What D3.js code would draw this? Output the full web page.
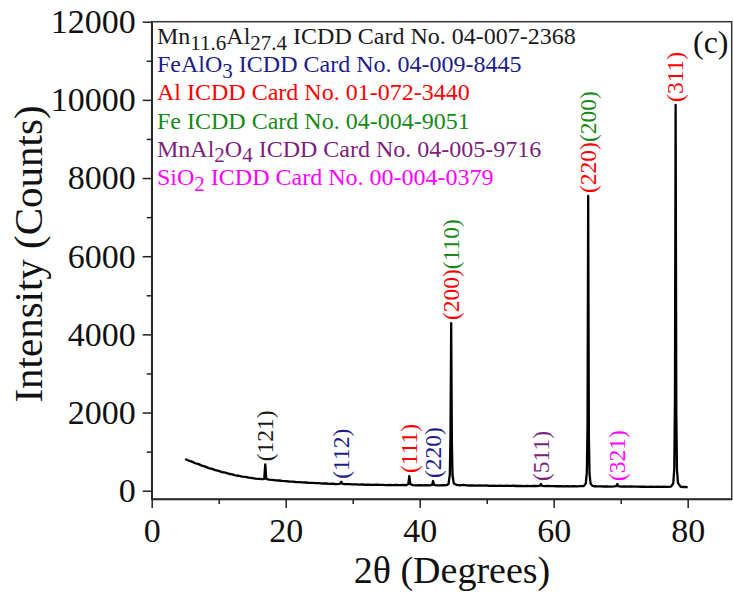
<!DOCTYPE html>
<html>
<head>
<meta charset="utf-8">
<script src="https://cdn.jsdelivr.net/npm/d3@7"></script>
<style>
  html, body { margin: 0; padding: 0; background: #fff; }
  svg { display: block; }
  text { font-family: "Liberation Serif", "Times New Roman", serif; }
</style>
</head>
<body>
<svg id="chart" width="733" height="594"></svg>
<script>
// XRD scan: [2θ (deg), intensity (counts)]
const scan = [
  [5.0,810],[5.5,772],[6.0,745],[6.5,703],[7.0,680],[7.5,641],[8.0,615],[8.5,578],[9.0,560],[9.5,528],
  [10.0,507],[10.5,476],[11.0,462],[11.5,434],[12.0,420],[12.5,395],[13.0,383],[13.5,360],[14.0,352],[14.5,333],
  [15.0,325],[15.5,310],[16.0,304],[16.5,296],[16.8,305],[16.95,675],[17.1,300],[17.5,283],[18.0,279],[18.5,266],
  [19.0,261],[19.5,250],[20.0,247],[20.5,236],[21.0,234],[21.5,223],[22.0,221],[22.5,211],[23.0,210],[23.5,201],
  [24.0,199],[24.5,193],[25.0,192],[25.5,184],[26.0,185],[26.5,177],[27.0,178],[27.5,171],[28.0,174],[28.18,188],
  [28.3,230],[28.42,182],[28.8,168],[29.5,169],[30.0,161],[30.5,163],[31.0,156],[31.5,159],[32.0,152],[32.5,156],
  [33.0,150],[33.5,153],[34.0,147],[34.5,151],[35.0,145],[35.5,149],[36.0,143],[36.5,147],[37.0,141],[37.5,146],
  [38.0,142],[38.3,170],[38.45,376],[38.6,168],[39.0,143],[39.5,138],[40.0,144],[40.5,137],[41.0,141],[41.5,136],
  [41.85,150],[42.0,248],[42.15,148],[42.5,139],[43.0,135],[43.5,140],[44.0,141],[44.3,170],[44.5,420],[44.6,1450],
  [44.7,4290],[44.8,1250],[44.9,390],[45.1,185],[45.5,150],[46.0,139],[46.5,148],[47.0,136],[47.5,134],[48.0,138],
  [48.5,131],[49.0,135],[49.5,128],[50.0,133],[50.5,126],[51.0,131],[51.5,125],[52.0,129],[52.5,124],[53.0,128],
  [53.5,122],[54.0,127],[54.5,121],[55.0,125],[55.5,120],[56.0,124],[56.5,118],[57.0,122],[57.5,120],[57.95,128],
  [58.1,171],[58.25,126],[58.7,117],[59.0,121],[59.5,115],[60.0,120],[60.5,114],[61.0,118],[61.5,113],[62.0,117],
  [62.5,112],[63.0,116],[63.5,111],[64.0,115],[64.5,116],[64.8,190],[64.95,480],[65.05,1650],[65.15,7540],[65.25,1400],
  [65.35,430],[65.5,185],[65.8,124],[66.0,114],[66.5,110],[67.0,113],[67.5,108],[68.0,112],[68.5,107],[69.0,111],
  [69.35,118],[69.5,171],[69.65,116],[70.0,106],[70.5,110],[71.0,104],[71.5,108],[72.0,103],[72.5,107],[73.0,101],
  [73.5,105],[74.0,100],[74.5,104],[75.0,99],[75.5,103],[76.0,98],[76.5,102],[77.0,97],[77.5,104],[77.85,190],
  [78.0,560],[78.1,2300],[78.2,9870],[78.3,2000],[78.4,540],[78.55,200],[78.9,110],[79.0,98],[79.5,95],[80.0,92]
];

// Reference phases (legend)
const phaseNames  = ["Mn11.6Al27.4", "FeAlO3", "Al", "Fe", "MnAl2O4", "SiO2"];
const cardNumbers = ["04-007-2368", "04-009-8445", "01-072-3440", "04-004-9051", "04-005-9716", "00-004-0379"];
const phaseColors = ["#1a1a1a", "#1c1c8e", "#ff0000", "#178a17", "#7d1f7d", "#ff00ff"];

// Indexed reflections
const peakAngles = [16.95, 28.3, 38.45, 42.0, 44.7, 58.1, 65.15, 69.5, 78.2];
const peakCounts = [675, 230, 376, 248, 4290, 171, 7540, 171, 9870];
const peakHkl    = [["(121)"], ["(112)"], ["(111)"], ["(220)"], ["(200)", "(110)"], ["(511)"], ["(220)", "(200)"], ["(321)"], ["(311)"]];
const peakPhase  = [[0], [1], [2], [1], [2, 3], [4], [2, 3], [5], [2]];

// Axis ticks
const xMajorTicks = [0, 20, 40, 60, 80];
const xMinorTicks = [10, 30, 50, 70];
const yMajorTicks = [0, 2000, 4000, 6000, 8000, 10000, 12000];
const yMinorTicks = [1000, 3000, 5000, 7000, 9000, 11000];

const svg = d3.select("#chart");
const plot = { left: 151.7, right: 731.7, top: 21.7, bottom: 499 };

const x = d3.scaleLinear().domain([0, 86.57]).range([plot.left, plot.right]);
const y = d3.scaleLinear().domain([-212, 12000]).range([plot.bottom, plot.top]);

// Plot frame
svg.append("rect")
  .attr("x", plot.left).attr("y", plot.top)
  .attr("width", plot.right - plot.left).attr("height", plot.bottom - plot.top)
  .attr("fill", "none").attr("stroke", "#333").attr("stroke-width", 1.5);

// X axis
svg.append("g").attr("transform", `translate(0,${plot.bottom})`)
  .call(d3.axisBottom(x).tickValues(xMajorTicks).tickFormat(d3.format("d"))
    .tickSize(9).tickPadding(10).tickSizeOuter(0));
svg.append("g").attr("transform", `translate(0,${plot.bottom})`)
  .call(d3.axisBottom(x).tickValues(xMinorTicks).tickFormat("").tickSize(5).tickSizeOuter(0))
  .call(g => g.select(".domain").remove());

// Y axis
svg.append("g").attr("transform", `translate(${plot.left},0)`)
  .call(d3.axisLeft(y).tickValues(yMajorTicks).tickFormat(d3.format("d"))
    .tickSize(9).tickPadding(7).tickSizeOuter(0));
svg.append("g").attr("transform", `translate(${plot.left},0)`)
  .call(d3.axisLeft(y).tickValues(yMinorTicks).tickFormat("").tickSize(5).tickSizeOuter(0))
  .call(g => g.select(".domain").remove());

svg.selectAll(".domain").attr("stroke", "#222").attr("stroke-width", 1.5);
svg.selectAll(".tick line").attr("stroke", "#222").attr("stroke-width", 1.5);
svg.selectAll(".tick text")
  .attr("font-family", '"Liberation Serif", "Times New Roman", serif')
  .attr("font-size", 34).attr("fill", "#111");

// Axis titles
svg.append("text")
  .attr("x", 452).attr("y", 583)
  .attr("text-anchor", "middle").attr("font-size", 38).attr("fill", "#111")
  .text("2θ (Degrees)");

svg.append("text")
  .attr("transform", "translate(42,254) rotate(-90)")
  .attr("text-anchor", "middle").attr("font-size", 41).attr("fill", "#111")
  .text("Intensity (Counts)");

// Diffraction trace
svg.append("path")
  .datum(scan)
  .attr("fill", "none").attr("stroke", "#000").attr("stroke-width", 2.3)
  .attr("stroke-linejoin", "round")
  .attr("d", d3.line().x(d => x(d[0])).y(d => y(d[1])));

// Reflection labels, stacked upward from each peak tip
peakAngles.forEach((a, i) => {
  const t = svg.append("text")
    .attr("transform", `translate(${x(a)},${y(peakCounts[i]) - 3}) rotate(-90)`)
    .attr("dy", "0.33em").attr("font-size", 23.5);
  peakHkl[i].forEach((h, j) => {
    t.append("tspan").attr("fill", phaseColors[peakPhase[i][j]]).text(h);
  });
});

// Legend with subscripted formulae
phaseNames.forEach((name, i) => {
  const t = svg.append("text")
    .attr("x", 157).attr("y", 44 + i * 28.2)
    .attr("font-size", 24).attr("fill", phaseColors[i]);
  const parts = name.match(/[A-Za-z]+|[0-9.]+/g);
  let shifted = false;
  parts.forEach(p => {
    const isSub = /^[0-9.]/.test(p);
    const ts = t.append("tspan").text(p);
    if (isSub) {
      ts.attr("font-size", 21).attr("dy", shifted ? 0 : 5.5);
      shifted = true;
    } else if (shifted) {
      ts.attr("dy", -5.5);
      shifted = false;
    }
  });
  const rest = t.append("tspan").text(" ICDD Card No. " + cardNumbers[i]);
  if (shifted) rest.attr("dy", -5.5);
});

// Panel tag
svg.append("text")
  .attr("x", 693).attr("y", 53)
  .attr("font-size", 32).attr("fill", "#111")
  .text("(c)");
</script>
</body>
</html>
